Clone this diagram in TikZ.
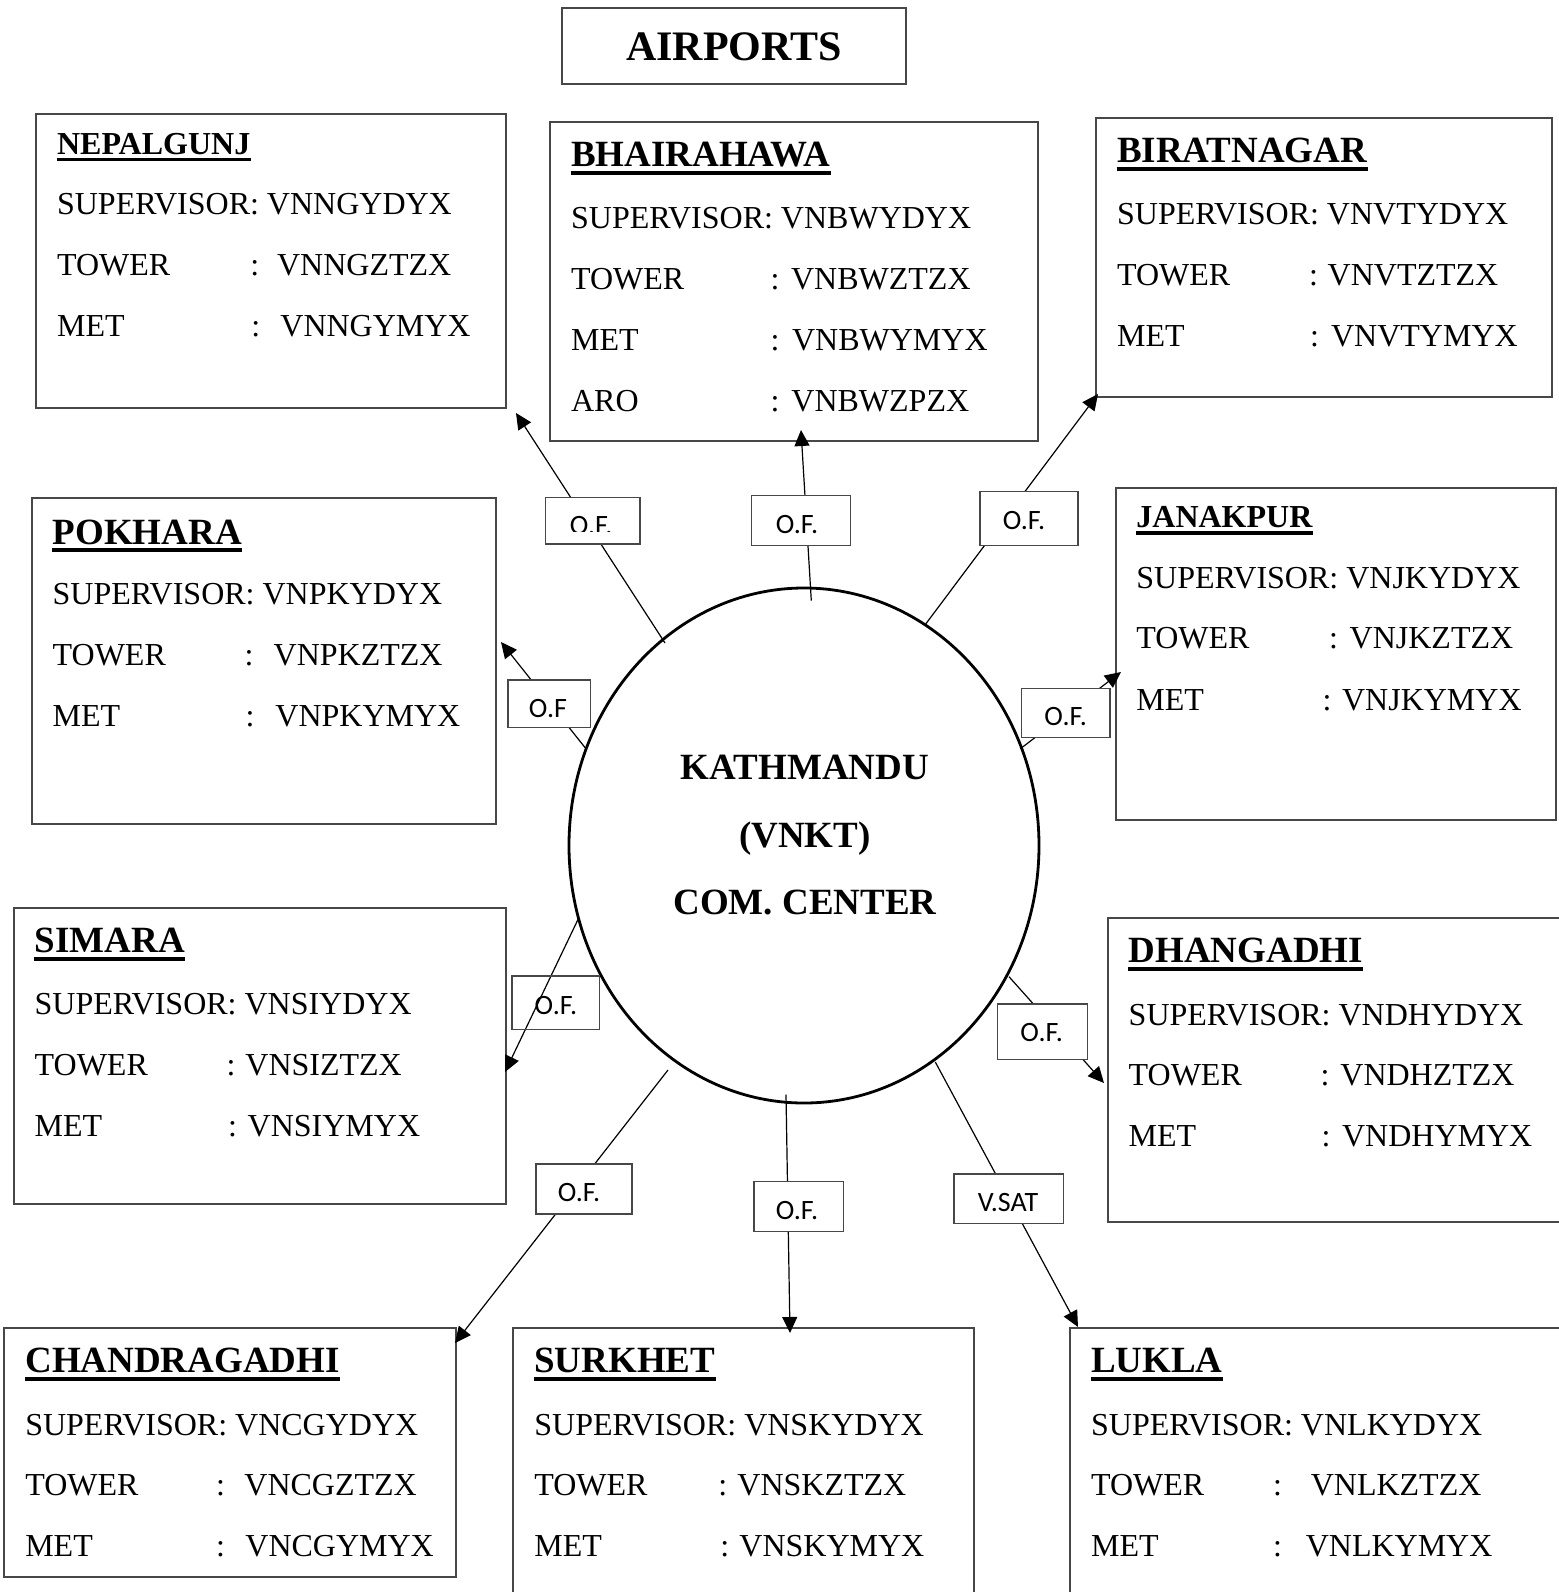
\documentclass[tikz,border=0pt]{standalone}
\usepackage{fontspec}
\setmainfont{Liberation Serif}
\newfontfamily\lblfont{Carlito}
\usetikzlibrary{arrows.meta,shapes.geometric,fit}
\newcommand\aprow[7]{%
  \node[txt] (#1l) at (#2,#3) {#4};
  \node[txt] (#1c) at (#5,#3) {:};
  \node[txt] (#1v) at (#6,#3) {#7};}
\newcommand\ulbig[1]{\draw[line width=2pt] ([yshift=-2.9pt]#1.base west) -- ([yshift=-2.9pt]#1.base east);}
\newcommand\ulsmall[1]{\draw[line width=1.6pt] ([yshift=-2.65pt]#1.base west) -- ([yshift=-2.65pt]#1.base east);}
\begin{document}
\begin{tikzpicture}[x=0.5pt,y=-0.5pt,
  apbox/.style={draw=black!72, line width=0.8pt, inner sep=0pt},
  txt/.style={anchor=base west, inner sep=0pt, font=\fontsize{16}{19}\selectfont},
  ttlbig/.style={anchor=base west, inner sep=0pt, font=\bfseries\fontsize{18.5}{22}\selectfont},
  ttlsmall/.style={anchor=base west, inner sep=0pt, font=\bfseries\fontsize{16}{19}\selectfont},
  ctext/.style={anchor=base, inner sep=0pt, font=\bfseries\fontsize{18.5}{22}\selectfont},
  lblbox/.style={draw=black!72, line width=0.7pt, fill=white, inner sep=0pt},
  lbltxt/.style={anchor=base, inner sep=0pt, font=\lblfont\fontsize{14}{17}\selectfont},
  conn/.style={line width=0.6pt, -{Triangle[length=8pt,width=7.5pt]}}]
\useasboundingbox (0,0) rectangle (1559,1592);
\clip (0,0) rectangle (1559,1592);
\fill[white] (0,0) rectangle (1559,1592);

% ---------- title ----------
\node[apbox, fit={(562,8) (906,84)}] (airbox) {};
\node[anchor=base, inner sep=0pt, font=\bfseries\fontsize{21}{25}\selectfont] (airtxt) at (734,60.5) {AIRPORTS};

% ---------- NEPALGUNJ ----------
\node[apbox, fit={(36,114) (506,408)}] (nepbox) {};
\node[ttlsmall] (nepT) at (56.7,154) {NEPALGUNJ};
\ulsmall{nepT}
\node[txt] (nepS) at (56.7,214) {SUPERVISOR: VNNGYDYX};
\aprow{nepA}{56.7}{275}{TOWER}{250}{276.7}{VNNGZTZX}
\aprow{nepB}{56.7}{336}{MET}{251}{280}{VNNGYMYX}

% ---------- BHAIRAHAWA ----------
\node[apbox, fit={(550,122) (1038,441)}] (bhabox) {};
\node[ttlbig] (bhaT) at (570.7,166.7) {BHAIRAHAWA};
\ulbig{bhaT}
\node[txt] (bhaS) at (570.7,228) {SUPERVISOR: VNBWYDYX};
\aprow{bhaA}{570.7}{289.3}{TOWER}{770.3}{790.7}{VNBWZTZX}
\aprow{bhaB}{570.7}{350}{MET}{770.3}{791.7}{VNBWYMYX}
\aprow{bhaC}{570.7}{411}{ARO}{770.3}{791}{VNBWZPZX}

% ---------- BIRATNAGAR ----------
\node[apbox, fit={(1096,118) (1552,397)}] (birbox) {};
\node[ttlbig] (birT) at (1116.7,162.7) {BIRATNAGAR};
\ulbig{birT}
\node[txt] (birS) at (1116.7,224.3) {SUPERVISOR: VNVTYDYX};
\aprow{birA}{1116.7}{285.7}{TOWER}{1308.7}{1327.3}{VNVTZTZX}
\aprow{birB}{1116.7}{346.7}{MET}{1309.7}{1330.7}{VNVTYMYX}

% ---------- POKHARA ----------
\node[apbox, fit={(32,498) (496,824)}] (pokbox) {};
\node[ttlbig] (pokT) at (52.3,544.2) {POKHARA};
\ulbig{pokT}
\node[txt] (pokS) at (52.3,604.8) {SUPERVISOR: VNPKYDYX};
\aprow{pokA}{52.3}{665.8}{TOWER}{244.3}{273.3}{VNPKZTZX}
\aprow{pokB}{52.3}{726.5}{MET}{245.3}{275}{VNPKYMYX}

% ---------- JANAKPUR ----------
\node[apbox, fit={(1116,488) (1556,820)}] (janbox) {};
\node[ttlsmall] (janT) at (1136,527.7) {JANAKPUR};
\ulsmall{janT}
\node[txt] (janS) at (1136,588.3) {SUPERVISOR: VNJKYDYX};
\aprow{janA}{1136}{648.3}{TOWER}{1328.7}{1349.3}{VNJKZTZX}
\aprow{janB}{1136}{710}{MET}{1322.3}{1341.7}{VNJKYMYX}

% ---------- SIMARA ----------
\node[apbox, fit={(14,908) (506,1204)}] (simbox) {};
\node[ttlbig] (simT) at (34.3,952.8) {SIMARA};
\ulbig{simT}
\node[txt] (simS) at (34.3,1014.3) {SUPERVISOR: VNSIYDYX};
\aprow{simA}{34.3}{1075.4}{TOWER}{226.3}{245}{VNSIZTZX}
\aprow{simB}{34.3}{1136}{MET}{227.7}{247.3}{VNSIYMYX}

% ---------- DHANGADHI ----------
\node[apbox, fit={(1108,918) (1575,1222)}] (dhabox) {};
\node[ttlbig] (dhaT) at (1128.3,962.7) {DHANGADHI};
\ulbig{dhaT}
\node[txt] (dhaS) at (1128.3,1025) {SUPERVISOR: VNDHYDYX};
\aprow{dhaA}{1128.3}{1085}{TOWER}{1320.3}{1340}{VNDHZTZX}
\aprow{dhaB}{1128.3}{1146.7}{MET}{1321.3}{1341.7}{VNDHYMYX}

% ---------- CHANDRAGADHI ----------
\node[apbox, fit={(4,1328) (456,1577)}] (chabox) {};
\node[ttlbig] (chaT) at (24.9,1372.7) {CHANDRAGADHI};
\ulbig{chaT}
\node[txt] (chaS) at (24.9,1435) {SUPERVISOR: VNCGYDYX};
\aprow{chaA}{24.9}{1495}{TOWER}{215.7}{244}{VNCGZTZX}
\aprow{chaB}{24.9}{1556.7}{MET}{215.7}{245}{VNCGYMYX}

% ---------- SURKHET ----------
\node[apbox, fit={(513,1328) (974,1615)}] (surbox) {};
\node[ttlbig] (surT) at (534,1372.7) {SURKHET};
\ulbig{surT}
\node[txt] (surS) at (534,1435) {SUPERVISOR: VNSKYDYX};
\aprow{surA}{534}{1495}{TOWER}{718}{737}{VNSKZTZX}
\aprow{surB}{534}{1556.7}{MET}{720}{739}{VNSKYMYX}

% ---------- LUKLA ----------
\node[apbox, fit={(1070,1328) (1575,1615)}] (lukbox) {};
\node[ttlbig] (lukT) at (1090.7,1372.7) {LUKLA};
\ulbig{lukT}
\node[txt] (lukS) at (1090.7,1435) {SUPERVISOR: VNLKYDYX};
\aprow{lukA}{1090.7}{1495}{TOWER}{1272.6}{1310.4}{VNLKZTZX}
\aprow{lukB}{1090.7}{1556.7}{MET}{1272.6}{1305.4}{VNLKYMYX}

% ---------- centre ----------
\node[draw, ellipse, line width=1.4pt, minimum width=235pt, minimum height=257.5pt, inner sep=0pt] (ktm) at (804,845.5) {};
\node[ctext] (ktm1) at (805,779) {KATHMANDU};
\node[ctext] (ktm2) at (805,847) {(VNKT)};
\node[ctext] (ktm3) at (805,914.7) {COM. CENTER};

% ---------- connector ends ----------
\coordinate (s1) at (665,643);      \coordinate (e1) at (516,413);
\coordinate (s2) at (811.3,600.7);  \coordinate (e2) at (801,430);
\coordinate (s3) at (925.7,624);    \coordinate (e3) at (1098,394);
\coordinate (s4) at (586.5,749.4);  \coordinate (e4) at (501,642);
\coordinate (s5) at (1020.4,748.7); \coordinate (e5) at (1121,672);
\coordinate (s6) at (578.6,918.2);  \coordinate (e6) at (505,1072);
\coordinate (s7) at (1009,976.7);   \coordinate (e7) at (1104,1083);
\coordinate (s8) at (668,1070);     \coordinate (e8) at (455,1343);
\coordinate (s9) at (786,1094.5);   \coordinate (e9) at (790,1333);
\coordinate (s10) at (935.3,1062);  \coordinate (e10) at (1078,1327);

\foreach \i in {1,...,10} {\draw[conn] (s\i) -- (e\i);}

% ---------- link labels ----------
\node[lblbox, fit={(545.4,497.5) (640,544)}] (lb1) {};
\begin{scope}
  \clip (545.4,497.5) rectangle (640,531.5);
  \node[lbltxt] (lt1) at (591.2,534.5) {O.F.};
\end{scope}
\node[lblbox, fit={(751.5,495.7) (850.2,545.7)}] (lb2) {};
\node[lbltxt] (lt2) at (797,533.3) {O.F.};
\node[lblbox, fit={(980,491.7) (1078,545.7)}] (lb3) {};
\node[lbltxt] (lt3) at (1024,529) {O.F.};
\node[lblbox, fit={(507.8,680) (590.2,727.7)}] (lb4) {};
\node[lbltxt] (lt4) at (548,717.3) {O.F};
\node[lblbox, fit={(1021.6,688.3) (1109.8,737.3)}] (lb5) {};
\node[lbltxt] (lt5) at (1065.7,725.7) {O.F.};
\node[lblbox, fill=none, fit={(511.8,976) (599.6,1029.3)}] (lb6) {};
\node[lbltxt] (lt6) at (555.9,1014) {O.F.};
\node[lblbox, fit={(997.6,1004) (1087.3,1059.3)}] (lb7) {};
\node[lbltxt] (lt7) at (1041.6,1041.7) {O.F.};
\node[lblbox, fit={(535.9,1164) (631.8,1214)}] (lb8) {};
\node[lbltxt] (lt8) at (579,1201) {O.F.};
\node[lblbox, fit={(753.9,1181.7) (843.3,1231.7)}] (lb9) {};
\node[lbltxt] (lt9) at (797,1219.3) {O.F.};
\node[lblbox, fit={(953.9,1174) (1063.7,1223.3)}] (lb10) {};
\node[lbltxt] (lt10) at (1008,1211.7) {V.SAT};
\end{tikzpicture}
\end{document}
